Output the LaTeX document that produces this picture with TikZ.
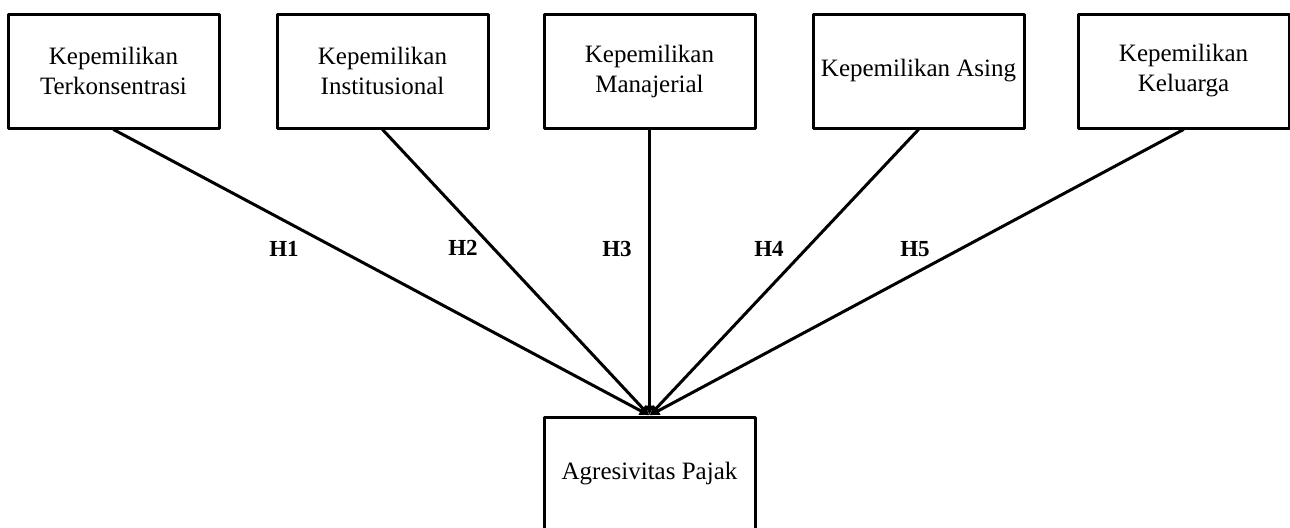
\documentclass[tikz,border=0pt]{standalone}
\usepackage{fontspec}
\setmainfont{Liberation Serif}
\usetikzlibrary{arrows.meta}

\begin{document}
\begin{tikzpicture}[x=0.5pt, y=-0.5pt, line cap=round, line join=round,
	kotak/.style={draw, line width=1.5pt, minimum width=105.5pt, minimum height=57pt, align=center, font=\fontsize{12.5}{15}\selectfont, inner sep=2pt},
	garis/.style={-{Latex[length=5pt, width=5pt]}, line width=1.5pt},
	hip/.style={font=\fontsize{11.5}{13}\selectfont\bfseries}]
	\useasboundingbox (0,0) rectangle (1290,527);
	\node[kotak] (k1) at (113.5,71) {Kepemilikan\\Terkonsentrasi};
	\node[kotak] (k2) at (382.5,71) {Kepemilikan\\Institusional};
	\node[kotak] (k3) at (649.5,71) {Kepemilikan\\Manajerial};
	\node[kotak] (k4) at (918.5,71) {Kepemilikan Asing};
	\node[kotak] (k5) at (1183.5,71) {Kepemilikan\\Keluarga};
	\node[kotak] (ap) at (649.5,474) {Agresivitas Pajak};
	\foreach \i in {1,...,5}
		\draw[garis] (k\i.south) -- (ap.north);
	\node[hip] (h1) at (284,249) {H1};
	\node[hip] (h2) at (463,248) {H2};
	\node[hip] (h3) at (617,249) {H3};
	\node[hip] (h4) at (769,249) {H4};
	\node[hip] (h5) at (915,249) {H5};
\end{tikzpicture}
\end{document}
